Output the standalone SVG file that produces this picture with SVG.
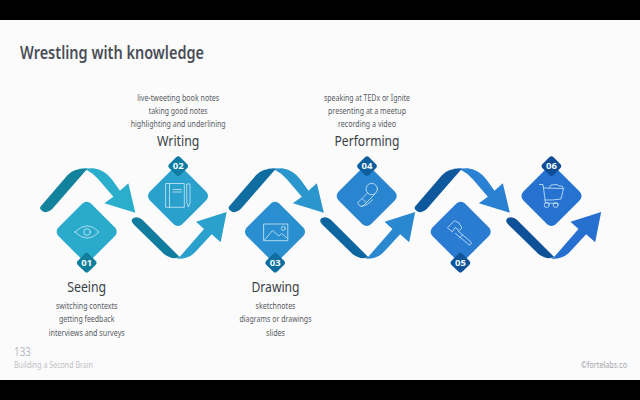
<svg xmlns="http://www.w3.org/2000/svg" width="640" height="400" viewBox="0 0 640 400">
<style>
text{font-family:"Noto Sans","Liberation Sans",sans-serif;text-anchor:middle}
.li{font-size:8.4px;fill:#585c62}
.h{font-size:14.2px;fill:#3a3f45}
.b{font-size:9.5px;font-weight:700;fill:#f4fbfd}
.i{fill:none;stroke:#cfe9f6;stroke-width:.8;stroke-linecap:round;stroke-linejoin:round}
</style>
<defs>
<path id="topD" transform="translate(30 150) scale(.33333)" d="M33 168L113 75Q135 54 172 56L66 178Q50 192 37 183Q26 176 33 168Z"/>
<path id="topL" transform="translate(30 150) scale(.33333)" d="M145 56L190 55Q225 60 247 90L270 122L295 100L316 188L223 160L250 140L205 88Q190 70 170 60Z"/>
<path id="botD" transform="translate(30 150) scale(.33333)" d="M310 204Q324 197 337 209L450 322Q418 332 392 302L312 224Q299 212 310 204Z"/>
<path id="botL" transform="translate(30 150) scale(.33333)" d="M448 322L522 237L498 215L590 186L572 277L545 253L495 307Q475 328 440 326Z"/>
</defs>
<rect width="640" height="400" fill="#fbfbfc"/>
<rect width="640" height="20" fill="#000"/>
<rect y="380" width="640" height="20" fill="#000"/>
<text x="20" y="58.500" style="text-anchor:start;font-size:17px;font-weight:600;fill:#4a4f57" textLength="184" lengthAdjust="spacingAndGlyphs">Wrestling with knowledge</text>
<g id="connectors">
<g id="arrow1"><use href="#topL" fill="#2aaecb"/><use href="#topD" fill="#12829d"/><use href="#botL" fill="#2aa0cc"/><use href="#botD" fill="#117d9e"/></g>
<g id="arrow2" transform="translate(188.500 0)"><use href="#topL" fill="#2a96cd"/><use href="#topD" fill="#0f6da0"/><use href="#botL" fill="#2a88d0"/><use href="#botD" fill="#0f65a0"/></g>
<g id="arrow3" transform="translate(374.500 0)"><use href="#topL" fill="#2a80d2"/><use href="#topD" fill="#0e589e"/><use href="#botL" fill="#2670d0"/><use href="#botD" fill="#0e5199"/></g>
</g>
<g id="node1">
<rect x="63.700" y="208.700" width="46" height="46" rx="6" transform="rotate(45 86.700 231.700)" fill="#2babcb"/>
<path class="i" d="M75 232Q87 219.500 99 232Q87 244.500 75 232Z"/><circle class="i" cx="87" cy="232" r="3.300"/>
<rect x="79" y="255" width="15.500" height="15.500" rx="3" transform="rotate(45 86.700 262.700)" fill="#117f9c"/>
<text class="b" x="86.700" y="266">01</text>
<text class="h" x="86.700" y="292" textLength="39" lengthAdjust="spacingAndGlyphs">Seeing</text>
<text class="li" x="86.700" y="309" textLength="61.500" lengthAdjust="spacingAndGlyphs">switching contexts</text>
<text class="li" x="86.700" y="322" textLength="55.500" lengthAdjust="spacingAndGlyphs">getting feedback</text>
<text class="li" x="86.700" y="335.500" textLength="76" lengthAdjust="spacingAndGlyphs">interviews and surveys</text>
</g>
<g id="node2">
<rect x="155" y="173" width="46" height="46" rx="6" transform="rotate(45 178 196)" fill="#2aa0cd"/>
<path class="i" d="M166 183.500H184.300V207.300H166ZM169.500 183.500V207.300M173 189.500H181.500M173 192H181.500M187 184H190V203L188.500 207L187 203Z"/>
<rect x="170.500" y="158.300" width="15.500" height="15.500" rx="3" transform="rotate(45 178.200 166)" fill="#0f7da3"/>
<text class="b" x="178.200" y="169.400">02</text>
<text class="h" x="178.200" y="146" textLength="42.500" lengthAdjust="spacingAndGlyphs">Writing</text>
<text class="li" x="178.200" y="100.800" textLength="82" lengthAdjust="spacingAndGlyphs">live-tweeting book notes</text>
<text class="li" x="178.200" y="114" textLength="59" lengthAdjust="spacingAndGlyphs">taking good notes</text>
<text class="li" x="178.200" y="127.200" textLength="95" lengthAdjust="spacingAndGlyphs">highlighting and underlining</text>
</g>
<g id="node3">
<rect x="252" y="208.700" width="46" height="46" rx="6" transform="rotate(45 275 231.700)" fill="#2a8fd0"/>
<rect class="i" x="264" y="224" width="23.800" height="16.700"/><path class="i" d="M264.500 240L272.500 230.500L279 236L281.500 233.500L287 238"/><circle class="i" cx="283.300" cy="228.300" r="2"/>
<rect x="267.500" y="255" width="15.500" height="15.500" rx="3" transform="rotate(45 275.200 262.700)" fill="#0f6e9f"/>
<text class="b" x="275.200" y="266">03</text>
<text class="h" x="275.500" y="292" textLength="48" lengthAdjust="spacingAndGlyphs">Drawing</text>
<text class="li" x="275.500" y="309" textLength="40" lengthAdjust="spacingAndGlyphs">sketchnotes</text>
<text class="li" x="275.500" y="322" textLength="72" lengthAdjust="spacingAndGlyphs">diagrams or drawings</text>
<text class="li" x="275.500" y="335.500" textLength="19" lengthAdjust="spacingAndGlyphs">slides</text>
</g>
<g id="node4">
<rect x="343.700" y="173" width="46" height="46" rx="6" transform="rotate(45 366.700 196)" fill="#2a85d0"/>
<circle class="i" cx="371.700" cy="189" r="5.700"/>
<path class="i" d="M367.500 193L357.500 203Q359.500 207 362.500 206.500L375 194M362.500 199L366 202.500M362 206Q366 206 369 203Q372 201 372.500 199.500"/>
<rect x="359.300" y="158.300" width="15.500" height="15.500" rx="3" transform="rotate(45 367 166)" fill="#0f5f9e"/>
<text class="b" x="367" y="169.400">04</text>
<text class="h" x="367" y="146" textLength="65" lengthAdjust="spacingAndGlyphs">Performing</text>
<text class="li" x="367" y="100.800" textLength="86" lengthAdjust="spacingAndGlyphs">speaking at TEDx or Ignite</text>
<text class="li" x="367" y="114" textLength="78" lengthAdjust="spacingAndGlyphs">presenting at a meetup</text>
<text class="li" x="367" y="127.200" textLength="58" lengthAdjust="spacingAndGlyphs">recording a video</text>
</g>
<g id="node5">
<rect x="437.700" y="208.700" width="46" height="46" rx="6" transform="rotate(45 460.700 231.700)" fill="#2a7cd2"/>
<path class="i" d="M447.700 227.500L454.500 220.700L459 223L462 228L459.500 230.500L455 227.500L452.500 231.500ZM458 231L470.500 241.500Q472.500 243.500 470.500 244.500Q469 245.500 467.500 243.500L455.500 233.500M462.500 235L459.500 238"/>
<rect x="452.700" y="255" width="15.500" height="15.500" rx="3" transform="rotate(45 460.400 262.700)" fill="#0f5499"/>
<text class="b" x="460.400" y="266">05</text>
</g>
<g id="node6">
<rect x="528.500" y="173" width="46" height="46" rx="6" transform="rotate(45 551.500 196)" fill="#2672d0"/>
<path class="i" d="M539.500 184.500H543L545.500 203L558 203.500M544 188L563.500 188.500L561 199Q552 200.500 545 200M549 188L551 185L557 184.500L559 186H562L563.500 188.500"/>
<circle class="i" cx="546.700" cy="205" r="2.500"/><circle class="i" cx="555.700" cy="205" r="2.500"/>
<rect x="543.700" y="158.300" width="15.500" height="15.500" rx="3" transform="rotate(45 551.400 166)" fill="#0f4c96"/>
<text class="b" x="551.400" y="169.400">06</text>
</g>
<text x="14" y="355.500" style="text-anchor:start;font-size:12px;fill:#b9bbbe" textLength="17" lengthAdjust="spacingAndGlyphs">133</text>
<text x="14" y="367.500" style="text-anchor:start;font-size:8.400px;fill:#bfc1c4" textLength="79" lengthAdjust="spacingAndGlyphs">Building a Second Brain</text>
<text x="627" y="367.500" style="text-anchor:end;font-size:8.400px;fill:#a4a6a9" textLength="46" lengthAdjust="spacingAndGlyphs">©fortelabs.co</text>
</svg>
